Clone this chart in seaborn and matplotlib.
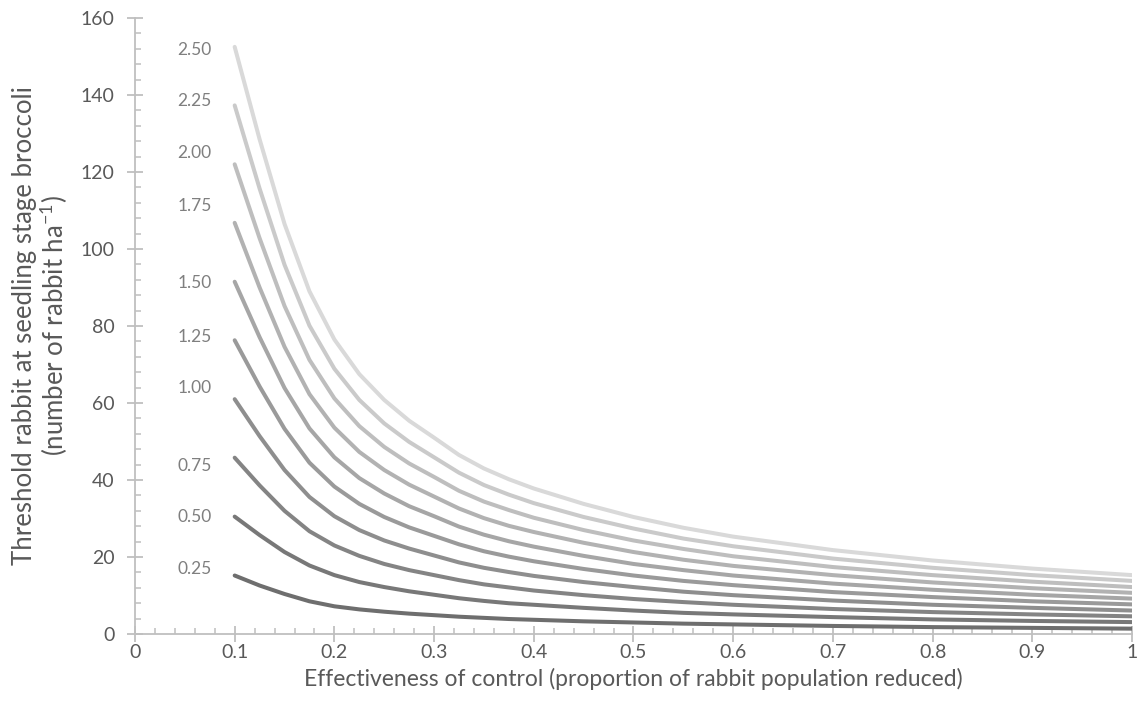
import pandas as pd
import seaborn as sns
import matplotlib
matplotlib.use("Agg")
import matplotlib.pyplot as plt
from matplotlib.ticker import MultipleLocator

sns.set_style("white")
plt.rcParams["font.family"] = ["Lato", "DejaVu Sans"]

# --- Data ---
effectiveness = [0.1, 0.125, 0.15, 0.175, 0.2, 0.225, 0.25, 0.275, 0.3, 0.325, 0.35,
                 0.375, 0.4, 0.45, 0.5, 0.55, 0.6, 0.7, 0.8, 0.9, 1.0]

series_labels = ["0.25", "0.50", "0.75", "1.00", "1.25",
                 "1.50", "1.75", "2.00", "2.25", "2.50"]

thr_025 = [15.2, 12.6, 10.4, 8.5, 7.2, 6.4, 5.8, 5.3, 4.9, 4.5, 4.2, 3.9, 3.7, 3.3, 3.0, 2.7, 2.5, 2.1, 1.8, 1.6, 1.4]
thr_050 = [30.5, 25.7, 21.3, 17.8, 15.3, 13.5, 12.2, 11.1, 10.2, 9.3, 8.6, 8.0, 7.6, 6.8, 6.1, 5.5, 5.1, 4.4, 3.8, 3.4, 3.1]
thr_075 = [45.8, 38.6, 32.0, 26.7, 23.0, 20.3, 18.2, 16.6, 15.3, 14.0, 12.9, 12.1, 11.3, 10.1, 9.1, 8.3, 7.6, 6.5, 5.7, 5.1, 4.6]
thr_100 = [61.0, 51.4, 42.6, 35.6, 30.6, 27.0, 24.3, 22.2, 20.4, 18.6, 17.2, 16.1, 15.1, 13.5, 12.2, 11.0, 10.1, 8.7, 7.6, 6.8, 6.1]
thr_125 = [76.3, 64.3, 53.3, 44.5, 38.3, 33.8, 30.4, 27.7, 25.5, 23.3, 21.5, 20.1, 18.9, 16.9, 15.2, 13.8, 12.7, 10.9, 9.6, 8.5, 7.7]
thr_150 = [91.5, 77.1, 63.9, 53.4, 45.9, 40.5, 36.5, 33.2, 30.6, 27.9, 25.8, 24.1, 22.7, 20.3, 18.2, 16.6, 15.2, 13.1, 11.5, 10.2, 9.2]
thr_175 = [106.8, 90.0, 74.6, 62.3, 53.6, 47.3, 42.6, 38.8, 35.7, 32.6, 30.1, 28.1, 26.5, 23.7, 21.3, 19.3, 17.7, 15.3, 13.4, 11.9, 10.7]
thr_200 = [122.0, 102.8, 85.2, 71.2, 61.2, 54.0, 48.6, 44.3, 40.8, 37.2, 34.4, 32.2, 30.2, 27.0, 24.3, 22.1, 20.2, 17.4, 15.3, 13.6, 12.2]
thr_225 = [137.3, 115.7, 95.9, 80.1, 68.9, 60.8, 54.7, 49.9, 45.9, 41.9, 38.7, 36.2, 34.0, 30.4, 27.4, 24.8, 22.8, 19.6, 17.2, 15.3, 13.8]
thr_250 = [152.5, 128.5, 106.5, 89.0, 76.5, 67.5, 60.8, 55.4, 51.0, 46.5, 43.0, 40.2, 37.8, 33.8, 30.4, 27.6, 25.3, 21.8, 19.1, 17.0, 15.3]

all_series = [thr_025, thr_050, thr_075, thr_100, thr_125,
              thr_150, thr_175, thr_200, thr_225, thr_250]

# y value where each series label is written
label_y = [16.8, 30.3, 43.6, 63.8, 77.2, 91.1, 111.2, 125.0, 138.4, 151.7]

line_colors = ["#6e6e6e", "#787878", "#848484", "#8e8e8e", "#9a9a9a",
               "#a6a6a6", "#b2b2b2", "#bebebe", "#cacaca", "#d9d9d9"]

# --- Long-form table ---
records = []
for lab, vals in zip(series_labels, all_series):
    for x, y in zip(effectiveness, vals):
        records.append({"effectiveness": x, "threshold": y, "level": lab})
df = pd.DataFrame(records)

fig = plt.figure(figsize=(11.4, 7.2), dpi=100)
ax = fig.add_axes([0.1184, 0.1194, 0.8746, 0.8556])

sns.lineplot(data=df, x="effectiveness", y="threshold", hue="level",
             hue_order=series_labels, palette=line_colors, linewidth=2.9,
             legend=False, ax=ax)

for lab, ly in zip(series_labels, label_y):
    ax.text(0.077, ly, lab, ha="right", va="center", fontsize=12.5, color="#7f7f7f")

ax.set_xlim(0, 1)
ax.set_ylim(0, 160)
ax.xaxis.set_minor_locator(MultipleLocator(0.02))
ax.yaxis.set_major_locator(MultipleLocator(20))
ax.yaxis.set_minor_locator(MultipleLocator(4))
ax.set_xticks([i / 10 for i in range(11)])
ax.set_xticklabels(["0", "0.1", "0.2", "0.3", "0.4", "0.5", "0.6", "0.7", "0.8", "0.9", "1"])

for side in ["top", "right"]:
    ax.spines[side].set_visible(False)
for side in ["left", "bottom"]:
    ax.spines[side].set_color("#bfbfbf")
    ax.spines[side].set_linewidth(1.3)

ax.tick_params(which="both", bottom=True, left=True)
ax.tick_params(which="major", direction="inout", length=11, width=1.3,
               color="#bfbfbf", labelsize=14, labelcolor="#595959")
ax.tick_params(which="minor", direction="in", length=4, width=1.1, color="#bfbfbf")
ax.tick_params(axis="x", which="major", pad=2)
ax.tick_params(axis="y", which="major", pad=9)

ax.set_xlabel("Effectiveness of control (proportion of rabbit population reduced)",
              fontsize=16.5, color="#595959", labelpad=5)
ax.set_ylabel("Threshold rabbit at seedling stage broccoli\n"
              "(number of rabbit ha$^{\\mathregular{-1}}$)",
              fontsize=18.5, color="#595959", labelpad=8, linespacing=1.0)

fig.savefig("out.png", dpi=100)
plt.close(fig)
